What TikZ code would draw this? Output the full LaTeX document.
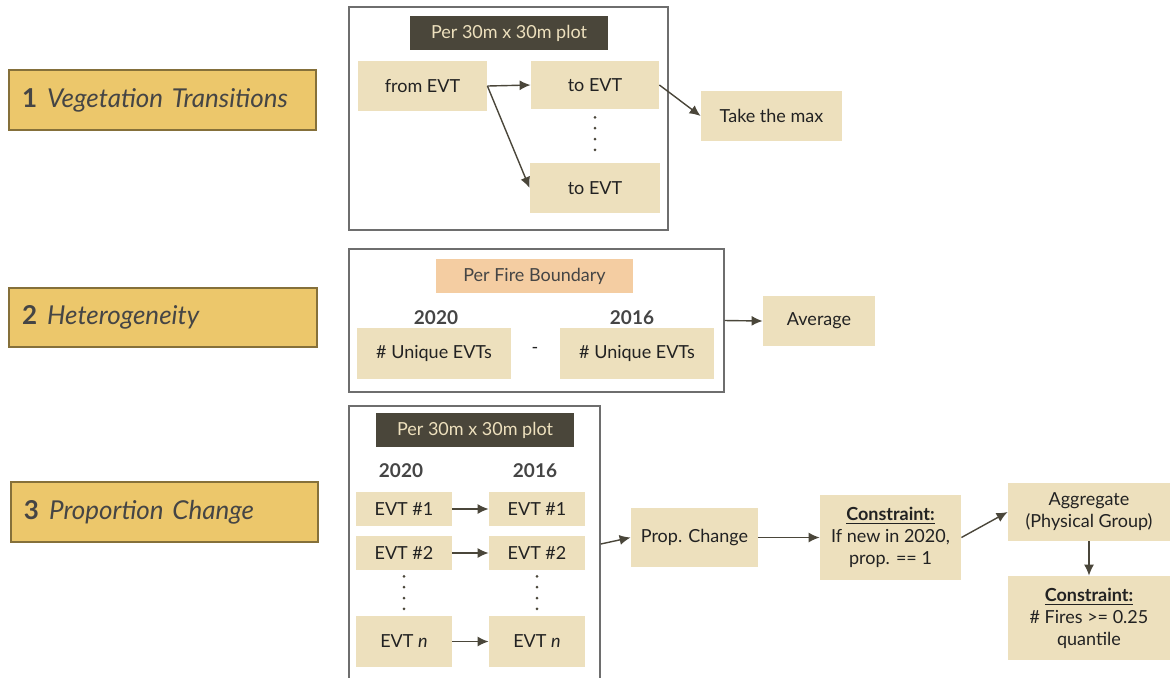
\documentclass[tikz,border=0pt]{standalone}
\usepackage{fontspec}
\setmainfont{Lato}
\usetikzlibrary{arrows.meta}
\definecolor{gold}{HTML}{ECC76B}
\definecolor{goldline}{HTML}{85703A}
\definecolor{tan}{HTML}{EDE0BD}
\definecolor{darkbox}{HTML}{4A463A}
\definecolor{peach}{HTML}{F4CDA2}
\definecolor{framegray}{HTML}{6E6E6E}
\definecolor{ink}{HTML}{222222}
\definecolor{softink}{HTML}{454545}

\begin{document}
\begin{tikzpicture}[x=0.5pt,y=-0.5pt,font=\fontsize{9}{11}\selectfont,text=ink,
  sz/.style 2 args={minimum width=#1*0.5pt,minimum height=#2*0.5pt,inner sep=0pt},
  step node/.style={fill=tan,align=center},
  title node/.style={fill=gold,draw=goldline,line width=1pt,text=softink,align=left,
    inner xsep=6.5pt,font=\fontsize{13}{15}\selectfont},
  head node/.style={fill=darkbox,text=tan},
  frame node/.style={draw=framegray,line width=0.7pt},
  year/.style={font=\bfseries\fontsize{9.5}{11}\selectfont,text=softink},
  dots/.style={line width=1.5pt,line cap=round,dash pattern=on 0pt off 5.4pt,draw=darkbox},
  arr/.style={-{Latex[length=5.5pt,width=5pt]},draw=darkbox,line width=0.7pt}]
\useasboundingbox (0,0) rectangle (1170,677);
%1
  \node[title node,minimum width=153.5pt,minimum height=30pt,text width=140.5pt] (lab1) at (162.5,100)
    {\textbf{1}\hspace{5pt}\textit{Vegetation Transitions}};
  \node[frame node,sz={319}{223}] (fr1) at (508.5,118.5) {};
  \node[head node,sz={198}{34}] (hdr1) at (509,33) {Per 30m x 30m plot};
  \node[step node,sz={129}{50}] (from) at (422.5,86) {from EVT};
  \node[step node,sz={128}{48}] (toA) at (595,85) {to EVT};
  \node[step node,sz={130}{50}] (toB) at (595,188) {to EVT};
  \node[step node,sz={141}{50}] (max) at (771.5,116) {Take the max};
  \draw[dots] ([yshift=-4pt]toA.south) -- ([yshift=3pt]toB.north);
%2
  \node[title node,minimum width=154pt,minimum height=29.5pt,text width=141pt] (lab2) at (163,317.5)
    {\textbf{2}\hspace{5pt}\textit{Heterogeneity}};
  \node[frame node,sz={375}{143}] (fr2) at (536.5,320.5) {};
  \node[fill=peach,text=softink,sz={197}{34}] (fire) at (534.5,276) {Per Fire Boundary};
  \node[year] (y20) at (436,318) {2020};
  \node[year] (y16) at (632,318) {2016};
  \node[step node,sz={154}{51}] (uA) at (434,353.5) {\# Unique EVTs};
  \node[step node,sz={154}{51}] (uB) at (637,353.5) {\# Unique EVTs};
  \node (minus) at (535,350) {-};
  \node[step node,sz={112}{50}] (avg) at (819,321) {Average};
%3
  \node[title node,minimum width=153.5pt,minimum height=30pt,text width=140.5pt] (lab3) at (164.5,512)
    {\textbf{3}\hspace{5pt}\textit{Proportion Change}};
  \node[frame node,sz={251}{276}] (fr3) at (474.5,544) {};
  \node[head node,sz={198}{34}] (hdr3) at (475,430) {Per 30m x 30m plot};
  \node[year] (y20b) at (401,471) {2020};
  \node[year] (y16b) at (535,471) {2016};
  \node[step node,sz={96}{34}] (a1) at (404,509) {EVT \#1};
  \node[step node,sz={96}{34}] (b1) at (537,509) {EVT \#1};
  \node[step node,sz={96}{34}] (a2) at (404,553) {EVT \#2};
  \node[step node,sz={96}{34}] (b2) at (537,553) {EVT \#2};
  \node[step node,sz={96}{51}] (an) at (404,641.5) {EVT \textit{n}};
  \node[step node,sz={96}{51}] (bn) at (537,641.5) {EVT \textit{n}};
  \draw[dots] ([yshift=-3pt]a2.south) -- ([yshift=3pt]an.north);
  \draw[dots] ([yshift=-3pt]b2.south) -- ([yshift=3pt]bn.north);
  \node[step node,sz={127}{59}] (prop) at (694.5,537.5) {Prop. Change};
  \node[step node,sz={141}{85}] (con1) at (890.5,537.5)
    {\underline{\textbf{Constraint:}}\\If new in 2020,\\prop. == 1};
  \node[step node,sz={162}{58}] (agg) at (1089,512) {Aggregate\\(Physical Group)};
  \node[step node,sz={162}{84}] (con2) at (1089,618)
    {\underline{\textbf{Constraint:}}\\\# Fires >= 0.25\\quantile};
%paths
  \path[every edge/.style={arr}]
    (from.east) edge (toA.west)
                edge (toB.west)
    (toA.east) edge (max.west)
    (fr2.east) edge (avg.west)
    (a1) edge (b1)
    (a2) edge (b2)
    (an) edge (bn)
    (fr3.east) edge (prop.west)
    (prop) edge (con1)
    (con1.east) edge (agg.west)
    (agg) edge (con2);
\end{tikzpicture}
\end{document}
